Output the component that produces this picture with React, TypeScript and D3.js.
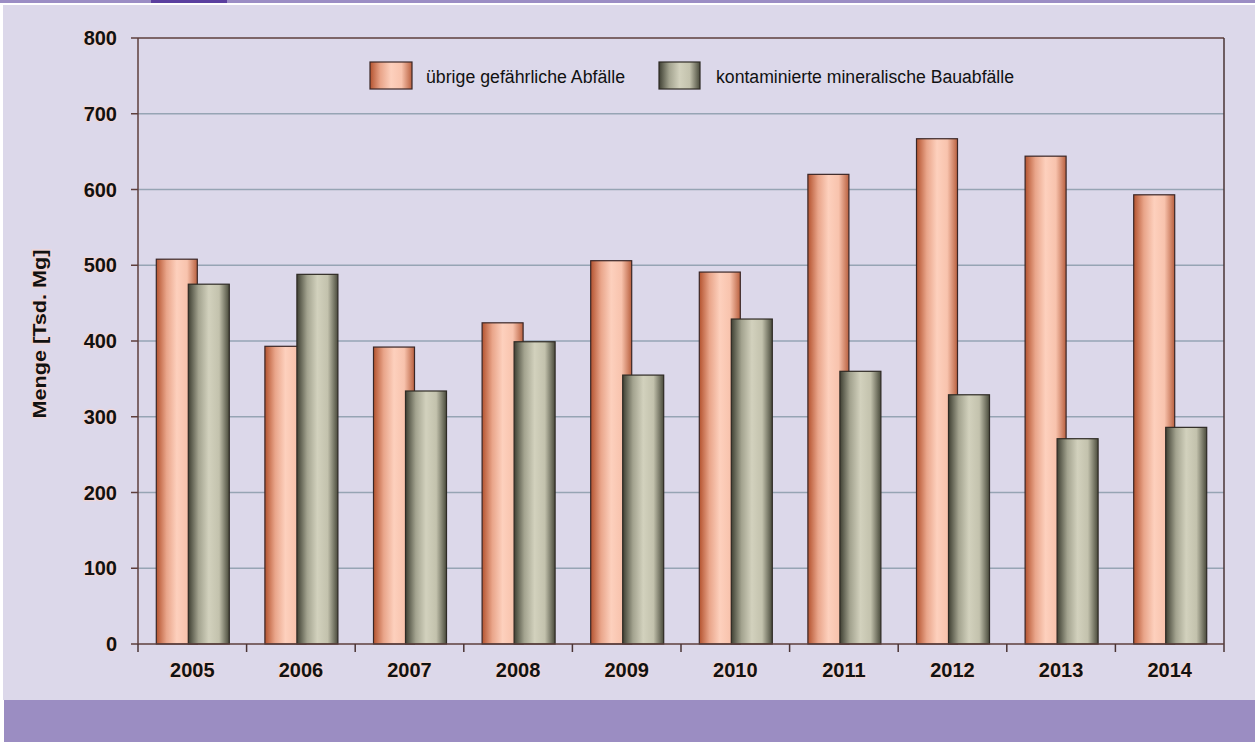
import React from "react";
import * as d3 from "d3";

const years = ["2005", "2006", "2007", "2008", "2009", "2010", "2011", "2012", "2013", "2014"];
const uebrigeAbfaelle = [508, 393, 392, 424, 506, 491, 620, 667, 644, 593];
const bauabfaelle = [475, 488, 334, 399, 355, 429, 360, 329, 271, 286];
const yTicks = [0, 100, 200, 300, 400, 500, 600, 700, 800];
const seriesNames = ["übrige gefährliche Abfälle", "kontaminierte mineralische Bauabfälle"];

const W = 1255;
const H = 742;
const margin = { top: 38, right: 31, bottom: 98, left: 138 };

export default function App() {
  const innerW = W - margin.left - margin.right;
  const innerH = H - margin.top - margin.bottom;

  const x = d3.scaleBand<string>().domain(years).range([0, innerW]);
  const y = d3.scaleLinear().domain([0, 800]).range([innerH, 0]);

  const barW = 41;
  const halo = { stroke: "#f0d6d6", strokeWidth: 2.5, paintOrder: "stroke" as const };

  return (
    <svg
      width={W}
      height={H}
      style={{ position: "absolute", left: 0, top: 0, fontFamily: "Arial, 'Liberation Sans', sans-serif" }}
    >
      <defs>
        <linearGradient id="gOrange" x1="0" x2="1" y1="0" y2="0">
          <stop offset="0%" stopColor="#b4532f" />
          <stop offset="25%" stopColor="#e9a58a" />
          <stop offset="50%" stopColor="#fdd0bd" />
          <stop offset="75%" stopColor="#f8c3ad" />
          <stop offset="100%" stopColor="#b9603f" />
        </linearGradient>
        <linearGradient id="gGray" x1="0" x2="1" y1="0" y2="0">
          <stop offset="0%" stopColor="#3f4033" />
          <stop offset="25%" stopColor="#a3a38f" />
          <stop offset="50%" stopColor="#d2d1bd" />
          <stop offset="75%" stopColor="#c3c2ad" />
          <stop offset="100%" stopColor="#4a4b3c" />
        </linearGradient>
      </defs>

      {/* page background */}
      <rect x={0} y={0} width={W} height={H} fill="#ffffff" />
      <rect x={3} y={5} width={W - 3} height={695} fill="#dcd8ea" />
      <rect x={0} y={0} width={W} height={3} fill="#9b8dc4" />
      <rect x={151} y={0} width={76} height={3} fill="#5b3f9f" />
      <rect x={4} y={700} width={W - 4} height={H - 700} fill="#9b8dc2" />

      <g transform={`translate(${margin.left},${margin.top})`}>
        {/* gridlines */}
        {yTicks.filter((t) => t > 0 && t < 800).map((t) => (
          <line key={t} x1={0} x2={innerW} y1={y(t)} y2={y(t)} stroke="#96a4b4" strokeWidth={1.3} />
        ))}

        {/* frame top/right */}
        <line x1={0} x2={innerW} y1={0} y2={0} stroke="#5e3f3c" strokeWidth={1.5} />
        <line x1={innerW} x2={innerW} y1={0} y2={innerH + 8} stroke="#4a3434" strokeWidth={1.5} />

        {/* bars */}
        {years.map((yr, i) => {
          const cx = (x(yr) ?? 0) + x.bandwidth() / 2;
          return (
            <g key={yr}>
              <rect
                x={cx - 36}
                y={y(uebrigeAbfaelle[i])}
                width={barW}
                height={innerH - y(uebrigeAbfaelle[i])}
                fill="url(#gOrange)"
                stroke="#3a2626"
                strokeWidth={1.2}
              />
              <rect
                x={cx - 4}
                y={y(bauabfaelle[i])}
                width={barW}
                height={innerH - y(bauabfaelle[i])}
                fill="url(#gGray)"
                stroke="#2e2a24"
                strokeWidth={1.2}
              />
            </g>
          );
        })}

        {/* y axis */}
        <line x1={0} x2={0} y1={0} y2={innerH} stroke="#5e3f3c" strokeWidth={1.5} />
        {yTicks.map((t) => (
          <g key={t} transform={`translate(0,${y(t)})`}>
            <line x1={-7} x2={0} stroke="#5e3f3c" strokeWidth={1.5} />
            <text x={-21} dy="0.36em" textAnchor="end" fontSize={20} fontWeight="bold" fill="#111" style={halo}>
              {t}
            </text>
          </g>
        ))}

        {/* x axis */}
        <line x1={0} x2={innerW} y1={innerH} y2={innerH} stroke="#5e3f3c" strokeWidth={1.5} />
        {years.map((yr) => (
          <line
            key={"t" + yr}
            x1={x(yr) ?? 0}
            x2={x(yr) ?? 0}
            y1={innerH}
            y2={innerH + 8}
            stroke="#4a3434"
            strokeWidth={1.5}
          />
        ))}
        {years.map((yr) => (
          <text
            key={"l" + yr}
            x={(x(yr) ?? 0) + x.bandwidth() / 2}
            y={innerH + 33}
            textAnchor="middle"
            fontSize={20}
            fontWeight="bold"
            fill="#111"
            style={halo}
          >
            {yr}
          </text>
        ))}
      </g>

      {/* y axis title */}
      <text
        transform="translate(46,334) rotate(-90)"
        textAnchor="middle"
        fontSize={19}
        fontWeight="bold"
        fill="#111"
        textLength={169}
        lengthAdjust="spacingAndGlyphs"
        style={halo}
      >
        Menge [Tsd. Mg]
      </text>

      {/* legend */}
      <g>
        <rect x={370} y={62} width={42} height={27} fill="url(#gOrange)" stroke="#3a2626" strokeWidth={1.2} />
        <text x={426} y={83} fontSize={18} fill="#111" textLength={199} lengthAdjust="spacingAndGlyphs">
          {seriesNames[0]}
        </text>
        <rect x={659} y={62} width={41} height={27} fill="url(#gGray)" stroke="#2e2a24" strokeWidth={1.2} />
        <text x={716} y={83} fontSize={18} fill="#111" textLength={298} lengthAdjust="spacingAndGlyphs">
          {seriesNames[1]}
        </text>
      </g>
    </svg>
  );
}
